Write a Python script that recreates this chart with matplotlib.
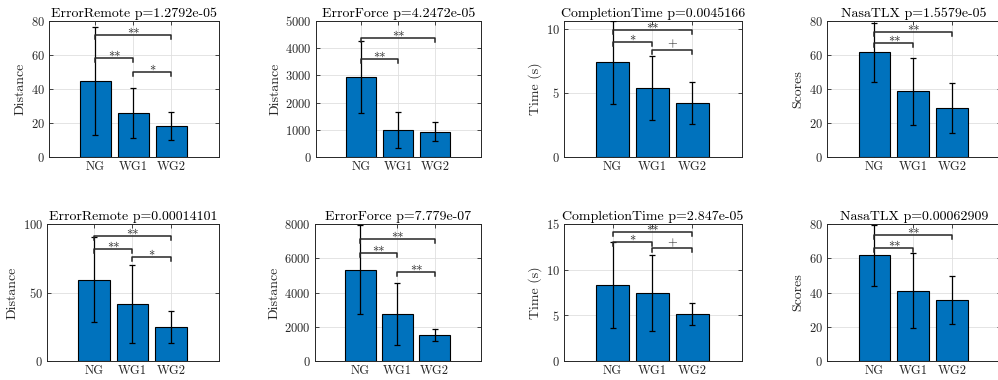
import numpy as np
import matplotlib
matplotlib.use("Agg")
import matplotlib.pyplot as plt

plt.rcParams['font.family'] = ['cmr10', 'DejaVu Serif']
plt.rcParams['axes.formatter.use_mathtext'] = True
plt.rcParams['mathtext.fontset'] = 'cm'

groups = ['NG', 'WG1', 'WG2']

# per panel: title, ylabel, ylim, ticks, means, sds, brackets (i, j, height, label)
titles = ['ErrorRemote p=1.2792e-05', 'ErrorForce p=4.2472e-05',
          'CompletionTime p=0.0045166', 'NasaTLX p=1.5579e-05',
          'ErrorRemote p=0.00014101', 'ErrorForce p=7.779e-07',
          'CompletionTime p=2.847e-05', 'NasaTLX p=0.00062909']
ylabels = ['Distance', 'Distance', 'Time (s)', 'Scores',
           'Distance', 'Distance', 'Time (s)', 'Scores']
ylims = [80, 5000, 10.6, 80, 100, 8000, 15, 80]
yticks = [[0, 20, 40, 60, 80], [0, 1000, 2000, 3000, 4000, 5000], [0, 5, 10],
          [0, 20, 40, 60, 80], [0, 50, 100], [0, 2000, 4000, 6000, 8000],
          [0, 5, 10, 15], [0, 20, 40, 60, 80]]

means = [[44.5, 25.8, 18.3], [2946, 990, 929], [7.38, 5.38, 4.21], [61.6, 38.7, 28.8],
         [59.2, 41.6, 24.9], [5340, 2738, 1506], [8.36, 7.41, 5.10], [61.8, 41.1, 35.6]]
sds = [[31.7, 14.7, 8.3], [1330, 655, 355], [3.25, 2.47, 1.6], [17.2, 19.7, 14.8],
       [31.0, 28.5, 11.5], [2620, 1820, 350], [4.7, 4.18, 1.2], [17.8, 22.1, 14.2]]

brackets = [
    [(0, 2, 72.0, '**'), (0, 1, 58.5, '**'), (1, 2, 49.8, '*')],
    [(0, 2, 4389, '**'), (0, 1, 3594, '**')],
    [(0, 2, 9.87, '**'), (0, 1, 8.94, '*'), (1, 2, 8.36, '+')],
    [(0, 2, 73.6, '**'), (0, 1, 66.9, '**')],
    [(0, 2, 91.4, '**'), (0, 1, 81.7, '**'), (1, 2, 76.0, '*')],
    [(0, 2, 7120, '**'), (0, 1, 6299, '**'), (1, 2, 5204, '**')],
    [(0, 2, 14.15, '**'), (0, 1, 13.02, '*'), (1, 2, 12.39, '+')],
    [(0, 2, 73.8, '**'), (0, 1, 66.1, '**')],
]

# axes boxes in pixels: left, right, top, bottom
W, H = 998, 380
lefts = [49, 316, 564, 827, 47, 315, 564, 827]
rights = [219, 481, 742, 1001, 219, 481, 742, 1001]
tops = [21, 21, 21, 21, 224, 224, 224, 224]
bottoms = [157, 157, 157, 157, 361, 361, 361, 361]

blue = '#0072BD'
dark = '#262626'

fig = plt.figure(figsize=(W / 100, H / 100), dpi=100)
x = np.arange(1, 4)

for k in range(8):
    ax = fig.add_axes([lefts[k] / W, 1 - bottoms[k] / H,
                       (rights[k] - lefts[k]) / W, (bottoms[k] - tops[k]) / H])
    ax.bar(x, means[k], width=0.82, color=blue, edgecolor='black', linewidth=0.8, zorder=2)
    ax.errorbar(x, means[k], yerr=sds[k], fmt='none', ecolor='black',
                elinewidth=0.9, capsize=2, capthick=0.9, zorder=3)
    ymax = ylims[k]
    tick = 0.03 * ymax
    for i, j, h, lab in brackets[k]:
        ax.plot([x[i], x[i], x[j], x[j]], [h - tick, h, h, h - tick],
                color=dark, linewidth=1.1, zorder=4)
        # cmr10 asterisks sit high above the baseline, plus sits on it
        off = -2.0 if '*' in lab else 1.5
        ax.annotate(lab, ((x[i] + x[j]) / 2, h), xytext=(0, off),
                    textcoords='offset points', ha='center', va='baseline',
                    fontsize=9, color=dark, zorder=4)
    ax.set_xlim(-0.22, 4.25)
    ax.set_ylim(0, ymax)
    ax.set_xticks(x)
    ax.set_xticklabels(groups)
    ax.set_yticks(yticks[k])
    ax.set_title(titles[k], fontsize=10, color='black', pad=3)
    ax.set_ylabel(ylabels[k], fontsize=10, color=dark, labelpad=3)
    ax.grid(True, color='#dfdfdf', linewidth=0.6, zorder=0)
    ax.set_axisbelow(True)
    ax.tick_params(direction='in', length=3, width=0.6, labelsize=9, colors=dark,
                   top=True, right=True, pad=3)
    for s in ax.spines.values():
        s.set_linewidth(0.7)
        s.set_color(dark)

fig.savefig('out.png', dpi=100)
